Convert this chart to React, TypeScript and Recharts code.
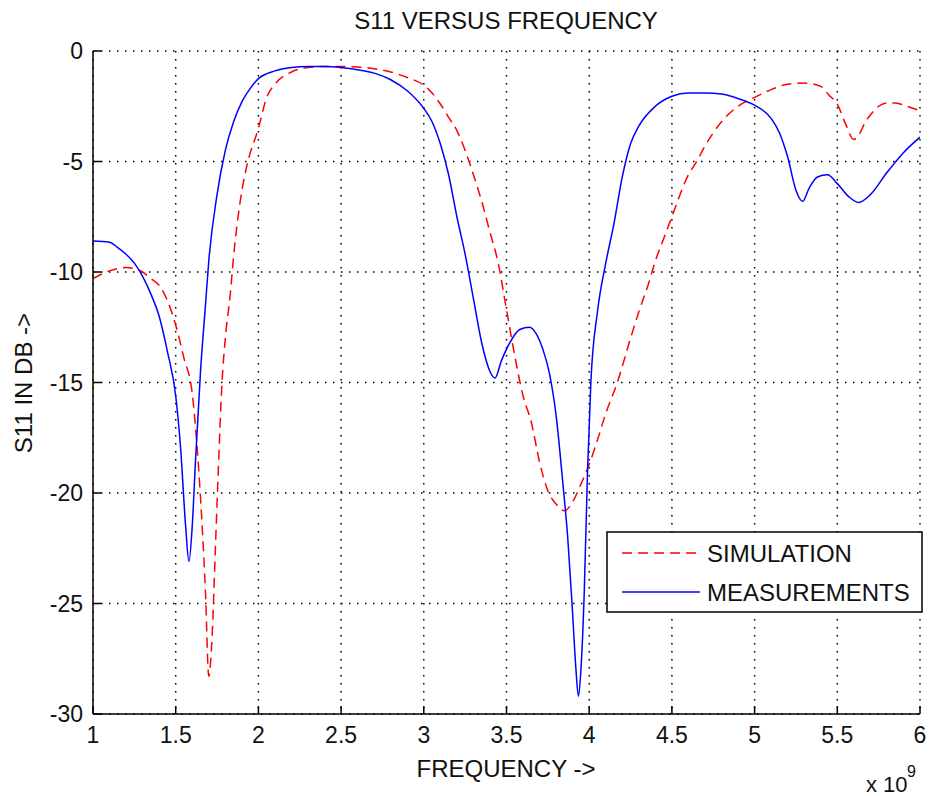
import { CartesianGrid, Line, LineChart, XAxis, YAxis } from "recharts";

// frequency in units of 1e9 Hz, S11 in dB
const simFreq = [
  1.0, 1.05, 1.1, 1.15, 1.2, 1.25, 1.3, 1.35, 1.4, 1.45, 1.5, 1.55, 1.6, 1.63, 1.66, 1.68, 1.7, 1.72,
  1.74, 1.76, 1.78, 1.8, 1.83, 1.85, 1.89, 1.93, 2.0, 2.05, 2.1, 2.2, 2.3, 2.4, 2.5, 2.6, 2.7, 2.8,
  2.9, 3.0, 3.05, 3.1, 3.15, 3.2, 3.25, 3.3, 3.35, 3.4, 3.45, 3.5, 3.55, 3.6, 3.65, 3.7, 3.75, 3.8,
  3.85, 3.9, 3.95, 4.0, 4.05, 4.1, 4.17, 4.25, 4.3, 4.36, 4.4, 4.45, 4.5, 4.6, 4.65, 4.7, 4.8, 4.9,
  5.0, 5.1, 5.2, 5.3, 5.4, 5.45, 5.5, 5.55, 5.6, 5.63, 5.67, 5.7, 5.75, 5.8, 5.85, 5.9, 6.0
];
const simS11 = [
  -10.3, -10.1, -9.95, -9.85, -9.8, -9.85, -10.0, -10.3, -10.6, -11.3, -12.4, -13.9, -15.5, -18,
  -21.5, -24.5, -28.3, -26.5, -22.5, -18.5, -15.0, -13.0, -11.0, -9.3, -6.8, -5.2, -3.5, -2.1, -1.5,
  -0.95, -0.75, -0.7, -0.7, -0.72, -0.8, -0.95, -1.2, -1.55, -1.9, -2.4, -3.0, -3.6, -4.5, -5.6, -6.8,
  -8.2, -9.6, -11.7, -13.8, -15.6, -16.8, -18.6, -19.9, -20.5, -20.8, -20.4, -19.6, -18.7, -17.6,
  -16.4, -15.0, -13.0, -11.8, -10.5, -9.5, -8.5, -7.5, -5.6, -5.0, -4.3, -3.2, -2.5, -2.1, -1.75,
  -1.5, -1.45, -1.6, -2.0, -2.4, -3.3, -4.0, -3.8, -3.2, -2.9, -2.5, -2.35, -2.35, -2.45, -2.7
];

const measFreq = [
  1.0, 1.1, 1.15, 1.2, 1.25, 1.3, 1.35, 1.4, 1.45, 1.5, 1.53, 1.56, 1.58, 1.6, 1.62, 1.65, 1.68, 1.7,
  1.75, 1.8, 1.85, 1.9, 1.95, 2.0, 2.1, 2.2, 2.3, 2.4, 2.5, 2.6, 2.7, 2.8, 2.9, 3.0, 3.05, 3.1, 3.15,
  3.2, 3.25, 3.3, 3.35, 3.4, 3.43, 3.47, 3.52, 3.58, 3.64, 3.68, 3.72, 3.76, 3.8, 3.84, 3.87, 3.9,
  3.92, 3.935, 3.95, 3.97, 3.99, 4.01, 4.05, 4.1, 4.15, 4.2, 4.25, 4.3, 4.4, 4.5, 4.6, 4.7, 4.8, 4.9,
  5.0, 5.1, 5.15, 5.2, 5.25, 5.29, 5.33, 5.38, 5.44, 5.5, 5.57, 5.63, 5.7, 5.8, 5.9, 6.0
];
const measS11 = [
  -8.6, -8.65, -8.9, -9.2, -9.6, -10.2, -11.0, -12.0, -13.6, -15.6, -18.0, -21.5, -23.1, -21.5,
  -18.5, -14.5, -11.5, -9.5, -6.5, -4.5, -3.2, -2.3, -1.7, -1.25, -0.9, -0.75, -0.7, -0.7, -0.75,
  -0.85, -1.0, -1.3, -1.8, -2.6, -3.2, -4.2, -5.6, -7.5, -9.2, -11.2, -13.2, -14.5, -14.8, -14.0,
  -13.2, -12.6, -12.5, -12.8, -13.5, -14.6, -16.5, -19.5, -22, -25.5, -28.0, -29.2, -28.0, -24.5,
  -19, -15, -11.8, -9.6, -7.8, -5.7, -4.2, -3.4, -2.5, -2.05, -1.9, -1.9, -1.95, -2.15, -2.45,
  -3.05, -3.7, -4.8, -6.3, -6.8, -6.2, -5.7, -5.6, -6.0, -6.6, -6.85, -6.5, -5.5, -4.6, -3.9
];

const xTicks = [1, 1.5, 2, 2.5, 3, 3.5, 4, 4.5, 5, 5.5, 6];
const yTicks = [-30, -25, -20, -15, -10, -5, 0];

const simData = simFreq.map((f, i) => ({ f, s11: simS11[i] }));
const measData = measFreq.map((f, i) => ({ f, s11: measS11[i] }));

const FONT = "'Liberation Sans', Arial, sans-serif";
const W = 930;
const H = 796;
const M = { top: 51, right: 10, bottom: 0, left: 0 };
const X_AXIS_H = 82;
const Y_AXIS_W = 93;

function XTick(props: any) {
  const { x, y, payload } = props;
  const axisY = y - 13;
  return (
    <g>
      <line x1={x} y1={axisY} x2={x} y2={axisY - 8} stroke="#000" strokeWidth={1.5} />
      <text x={x} y={y} dy="0.71em" textAnchor="middle" fontSize={23} fontFamily={FONT} fill="#111">
        {payload.value}
      </text>
    </g>
  );
}

function YTick(props: any) {
  const { x, y, payload } = props;
  const axisX = x + 10;
  return (
    <g>
      <line x1={axisX} y1={y} x2={axisX + 8} y2={y} stroke="#000" strokeWidth={1.5} />
      <text x={x} y={y} dy="0.355em" textAnchor="end" fontSize={23} fontFamily={FONT} fill="#111">
        {payload.value}
      </text>
    </g>
  );
}

export default function App() {
  return (
    <div style={{ position: "absolute", left: 0, top: 0, width: W, height: H, background: "#fff" }}>
      <LineChart width={W} height={H} margin={M}>
        <CartesianGrid
          stroke="#000"
          strokeWidth={1.5}
          strokeDasharray="1.5 6.5"
          horizontalValues={yTicks}
          verticalValues={xTicks}
        />
        <XAxis
          dataKey="f"
          type="number"
          domain={[1, 6]}
          ticks={xTicks}
          allowDataOverflow
          height={X_AXIS_H}
          tickSize={0}
          tickMargin={13}
          tickLine={false}
          axisLine={{ stroke: "#000", strokeWidth: 1.5 }}
          tick={<XTick />}
          interval={0}
        />
        <YAxis
          type="number"
          domain={[-30, 0]}
          ticks={yTicks}
          allowDataOverflow
          width={Y_AXIS_W}
          tickSize={0}
          tickMargin={10}
          tickLine={false}
          axisLine={{ stroke: "#000", strokeWidth: 1.5 }}
          tick={<YTick />}
          interval={0}
        />
        <Line
          data={simData}
          dataKey="s11"
          name="SIMULATION"
          type="monotone"
          stroke="#ff0000"
          strokeWidth={1.5}
          strokeDasharray="10 6"
          dot={false}
          isAnimationActive={false}
        />
        <Line
          data={measData}
          dataKey="s11"
          name="MEASUREMENTS"
          type="monotone"
          stroke="#0000ff"
          strokeWidth={1.5}
          dot={false}
          isAnimationActive={false}
        />
        {/* legend box */}
        <g>
          <rect x={607} y={532} width={315} height={80} fill="#fff" stroke="#000" strokeWidth={1.5} />
          <line x1={622} y1={553} x2={700} y2={553} stroke="#ff0000" strokeWidth={1.5} strokeDasharray="10 6" />
          <line x1={622} y1={592} x2={700} y2={592} stroke="#0000ff" strokeWidth={1.5} />
          <text x={707} y={553} dy="0.355em" fontSize={24} fontFamily={FONT} fill="#111">SIMULATION</text>
          <text x={707} y={592} dy="0.355em" fontSize={24} fontFamily={FONT} fill="#111">MEASUREMENTS</text>
        </g>
        <text x={506} y={20} dy="0.355em" textAnchor="middle" fontSize={24} fontFamily={FONT} fill="#111">
          S11 VERSUS FREQUENCY
        </text>
        <text x={506} y={768} dy="0.355em" textAnchor="middle" fontSize={24} fontFamily={FONT} fill="#111">
          FREQUENCY -&gt;
        </text>
        <text
          x={23}
          y={383}
          dy="0.355em"
          textAnchor="middle"
          fontSize={24}
          fontFamily={FONT}
          fill="#111"
          transform="rotate(-90 23 383)"
        >
          S11 IN DB -&gt;
        </text>
        <text x={866} y={784} dy="0.355em" fontSize={22} fontFamily={FONT} fill="#111">
          x 10
        </text>
        <text x={907} y={771} dy="0.355em" fontSize={16} fontFamily={FONT} fill="#111">
          9
        </text>
      </LineChart>
    </div>
  );
}
